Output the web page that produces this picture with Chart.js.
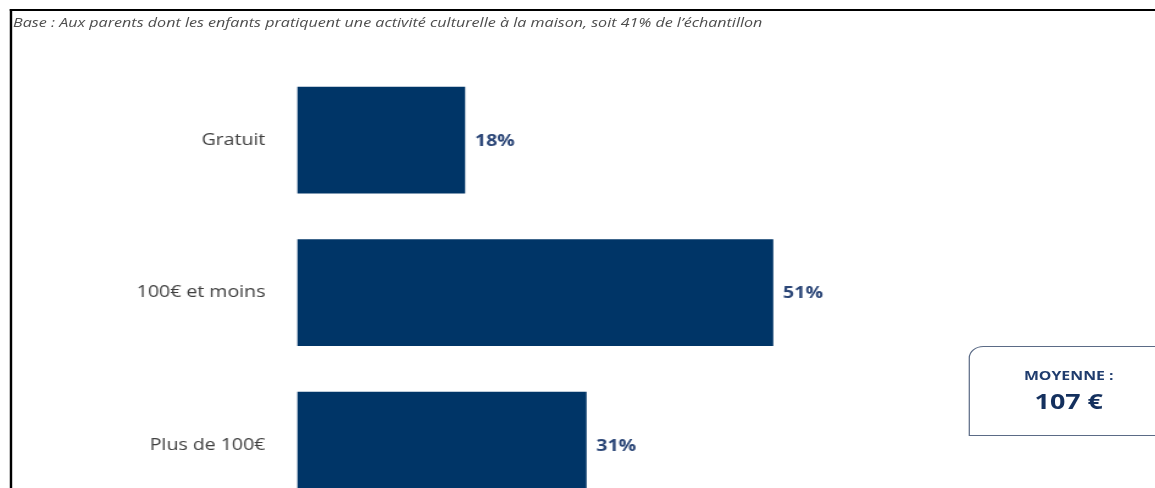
<!DOCTYPE html>
<html>
<head>
<meta charset="utf-8">
<script src="https://cdn.jsdelivr.net/npm/chart.js@4.4.0/dist/chart.umd.min.js"></script>
<style>
    html, body { margin: 0; padding: 0; background: #fff; overflow: hidden; }
    body { width: 1155px; height: 488px; position: relative; font-family: "Open Sans", sans-serif; }
    /* the source picture is stretched horizontally by ~1.22, so lay out in a narrower stage and stretch it */
    .stage { position: absolute; left: 0; top: 0; width: 947px; height: 600px; overflow: hidden; transform: scaleX(1.22); transform-origin: 0 0; }
    .frame { position: absolute; left: 7.5px; top: 9px; width: 1000px; height: 700px; border-left: 2px solid #000; border-top: 2px solid #000; }
    .base { position: absolute; left: 10.7px; top: 13px; font-size: 13.2px; font-style: italic; color: #4d4d4d; white-space: nowrap; }
    #chart { position: absolute; left: 0; top: 0; }
    .avg { position: absolute; left: 794px; top: 346px; width: 162px; height: 90px; border: 1.3px solid #5b6b86; border-top-left-radius: 12px; text-align: center; box-sizing: border-box; }
    .avg .t1 { position: absolute; left: 0; width: 162px; top: 19px; font-size: 13px; font-weight: bold; color: #1f3c6e; }
    .avg .t2 { position: absolute; left: 0; width: 162px; top: 38px; font-size: 22px; font-weight: bold; color: #14305e; }
</style>
</head>
<body>
<div class="stage">
    <canvas id="chart" width="947" height="557"></canvas>
    <div class="frame"></div>
    <div class="base">Base : Aux parents dont les enfants pratiquent une activité culturelle à la maison, soit 41% de l’échantillon</div>
    <div class="avg"><div class="t1">MOYENNE :</div><div class="t2">107 €</div></div>
</div>
<script>
const categories = ['Gratuit', '100€ et moins', 'Plus de 100€'];
const shares = [18, 51, 31];

// value labels at the end of each bar
const valueLabels = {
    id: 'valueLabels',
    afterDatasetsDraw(chart) {
        const ctx = chart.ctx;
        const meta = chart.getDatasetMeta(0);
        ctx.save();
        ctx.font = 'bold 16px "Open Sans"';
        ctx.fillStyle = '#2b4677';
        ctx.textBaseline = 'middle';
        ctx.textAlign = 'left';
        meta.data.forEach((bar, i) => {
            ctx.fillText(shares[i] + '%', bar.x + 8, bar.y + 1);
        });
        ctx.restore();
    }
};

new Chart(document.getElementById('chart').getContext('2d'), {
    type: 'bar',
    data: {
        labels: categories,
        datasets: [{
            data: shares,
            backgroundColor: '#003567',
            barPercentage: 0.7,
            categoryPercentage: 1.0
        }]
    },
    options: {
        indexAxis: 'y',
        responsive: false,
        animation: false,
        devicePixelRatio: 1,
        layout: { padding: { top: 64, right: 7, bottom: 9, left: 0 } },
        plugins: {
            legend: { display: false },
            tooltip: { enabled: false }
        },
        scales: {
            x: {
                display: false,
                min: 0,
                max: 91
            },
            y: {
                afterFit(scale) { scale.width = 243.5; },
                grid: { display: false, drawTicks: false },
                border: { display: false },
                ticks: {
                    padding: 26,
                    color: '#404040',
                    font: { family: 'Open Sans', size: 16 }
                }
            }
        }
    },
    plugins: [valueLabels]
});
</script>
</body>
</html>
